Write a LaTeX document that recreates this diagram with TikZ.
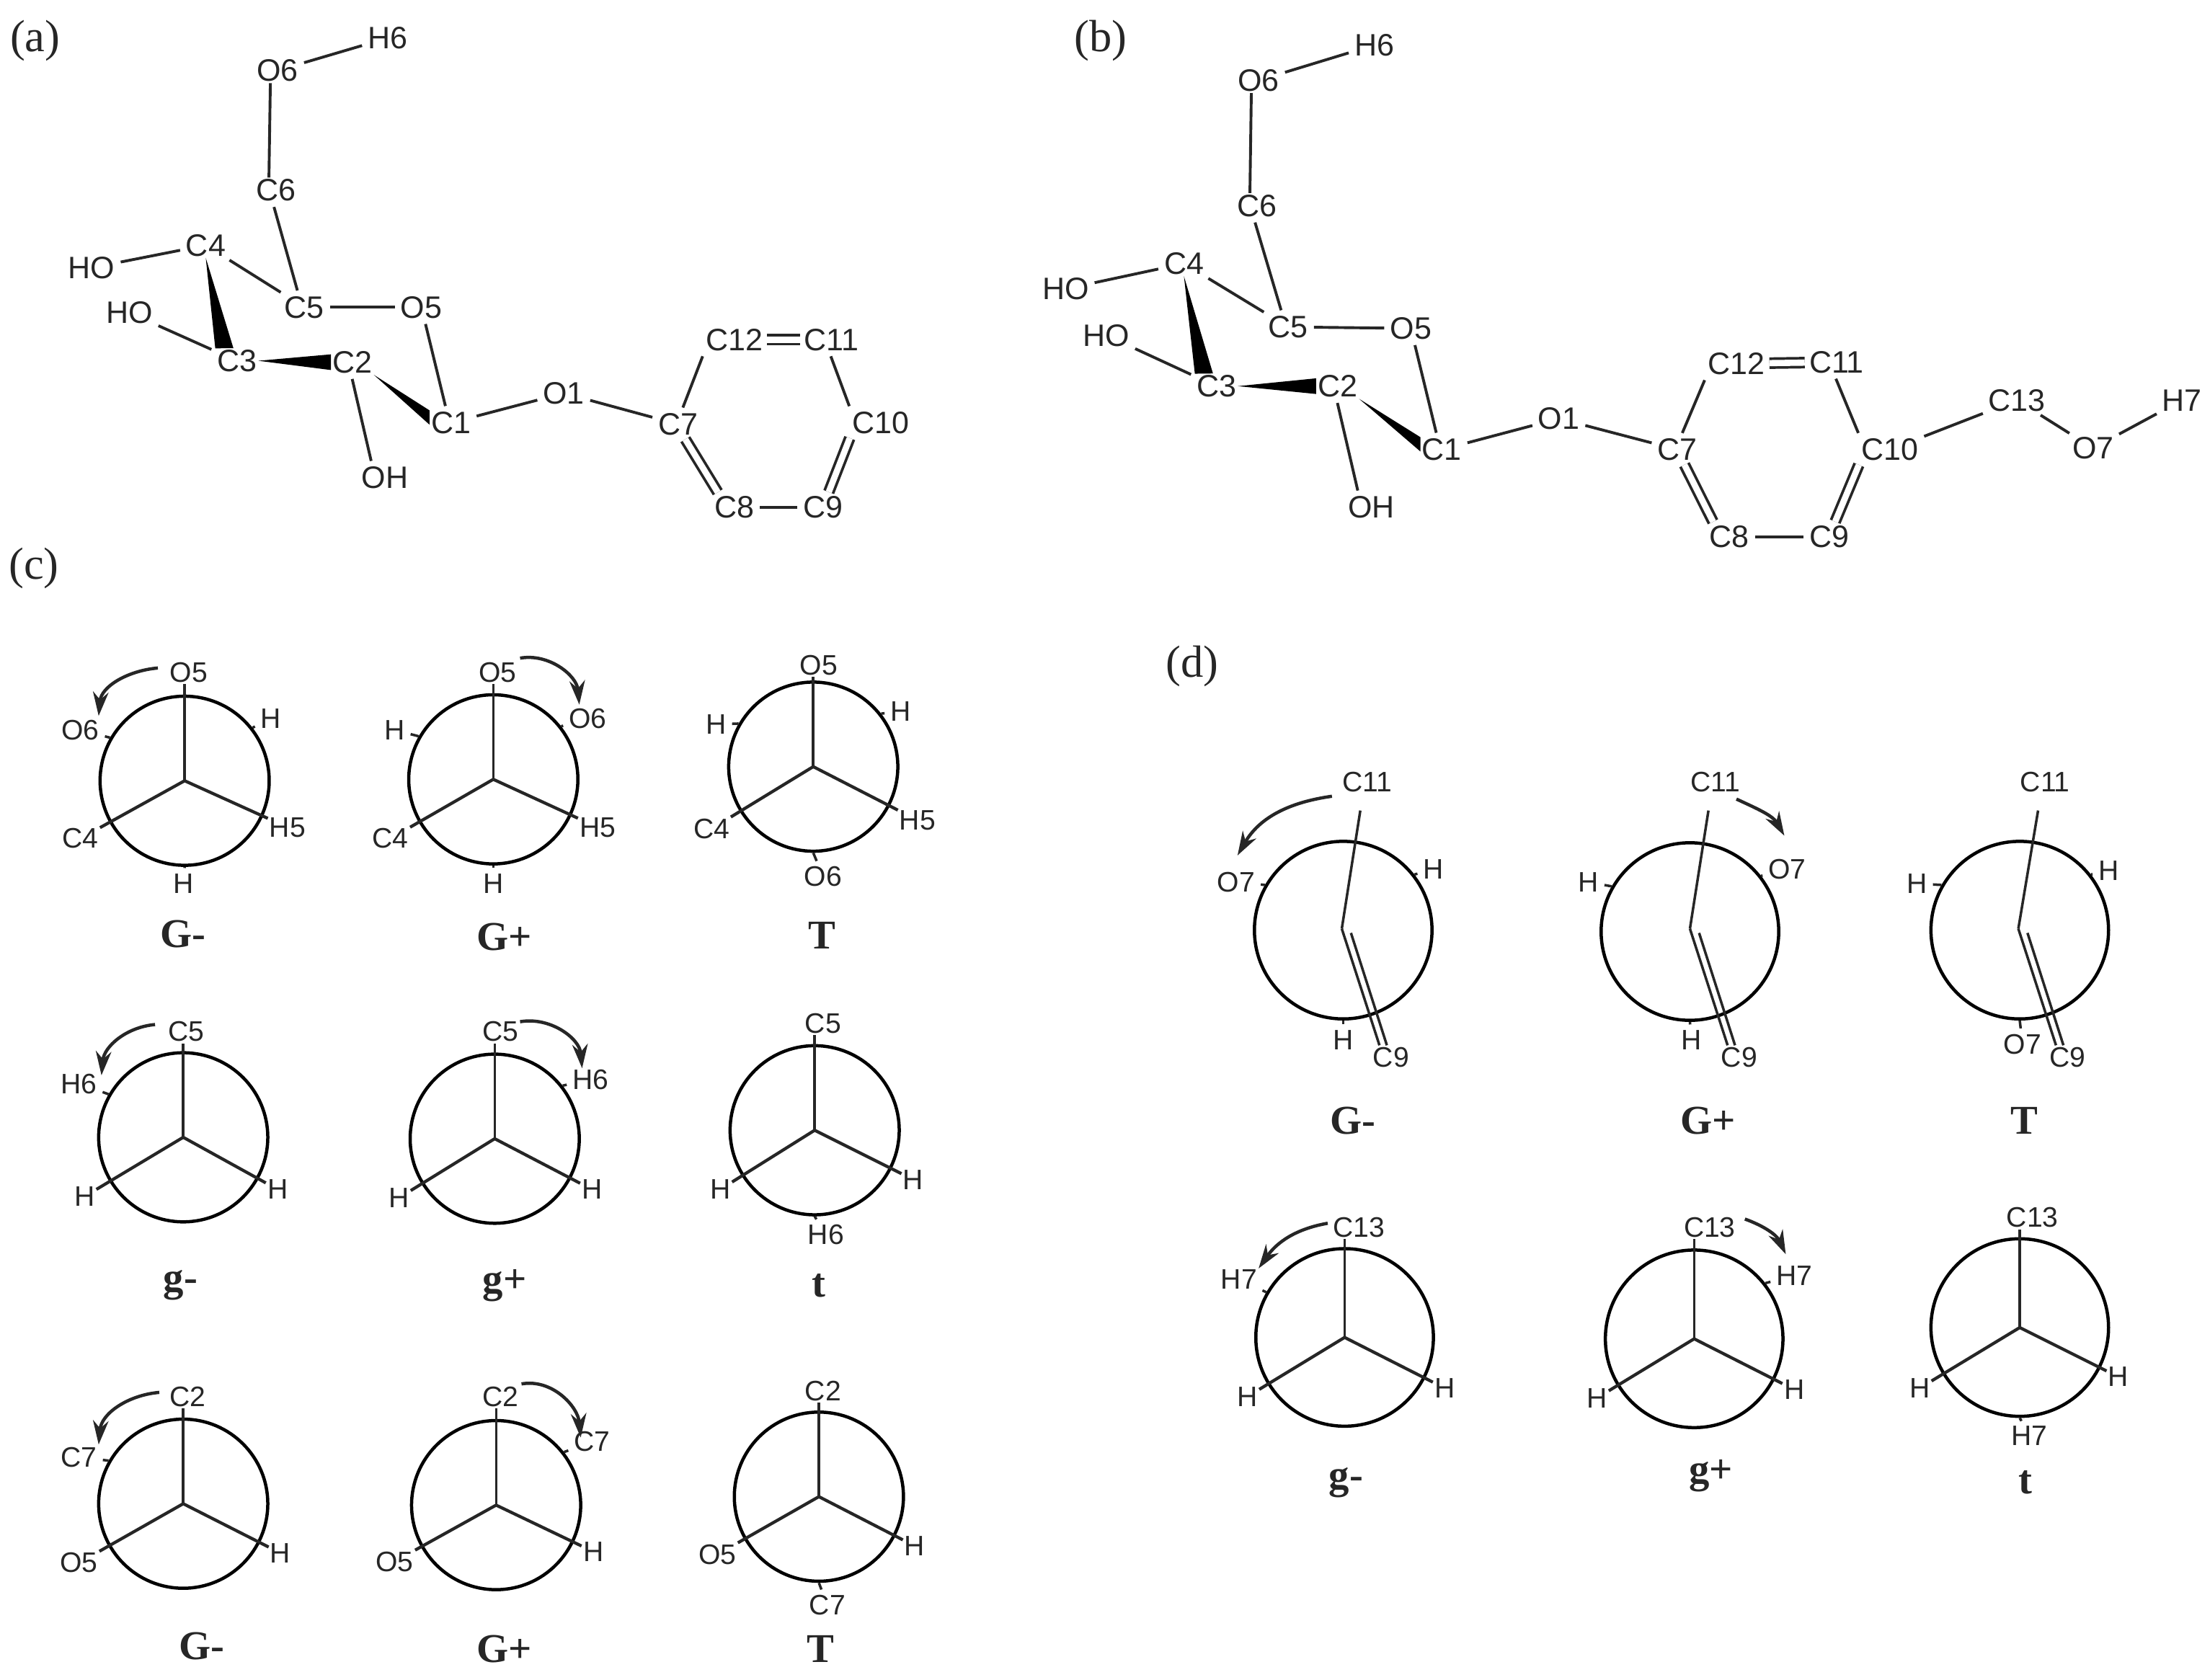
\documentclass[tikz,border=0pt]{standalone}
\usepackage{fontspec}
\setmainfont{Liberation Sans}
\newfontfamily\confont{Liberation Serif}
\usetikzlibrary{arrows.meta}
\definecolor{inkgray}{gray}{0.15}
\tikzset{
	atom/.style={inner sep=1pt, text=inkgray, font=\fontsize{22}{24}\selectfont},
	natom/.style={inner sep=1pt, text=inkgray, font=\fontsize{20}{22}\selectfont},
	panel/.style={inner sep=0pt, text=inkgray, font=\confont\fontsize{32}{35}\selectfont},
	conf/.style={inner sep=0pt, text=inkgray, font=\confont\bfseries\fontsize{29}{32}\selectfont},
	bond/.style={line width=1.8pt, draw=inkgray},
	mbond/.style={line width=2pt, draw=inkgray, shorten <=3pt, shorten >=3pt},
	dbond/.style={draw=inkgray, line width=1.9pt, double=white, double distance=4.4pt, shorten <=2pt, shorten >=2pt},
	ring/.style={circle, draw=black, line width=2.3pt, inner sep=0pt, minimum size=#1},
	turn/.style={line width=2.3pt, draw=inkgray, -{Stealth[length=17pt,width=11pt]}}
}
\begin{document}
\begin{tikzpicture}[x=1pt,y=-1pt]
	\useasboundingbox (0,0) rectangle (1568,1192);

	\node[panel] (pa) at (25,29) {(a)};
	\node[panel] (pb) at (781,29) {(b)};
	\node[panel] (pc) at (24,403) {(c)};
	\node[panel] (pd) at (846,473) {(d)};

	% the two sugars
	\foreach \nm/\x/\y/\t in {H6/275/27/H6, O6/197/50/O6, C6/196/135/C6, C4/146/174/C4, HOa/65/190/HO, C5/216/218/C5, O5/299/218/O5, HOb/92/222/HO, C3/168/256/C3, C2/250/257/C2, C1/320/300/C1, OH/273/339/OH, O1/400/279/O1, C7/481/301/C7, C12/521/241/C12, C11/590/241/C11, C10/625/300/C10, C8/521/360/C8, C9/584/360/C9}
		\node[atom] (a\nm) at (\x,\y) {\t};
	\foreach \nm/\x/\y/\t in {H6/975/32/H6, O6/893/57/O6, C6/892/146/C6, C4/840/187/C4, HOa/756/205/HO, C5/914/232/C5, O5/1001/233/O5, HOb/785/238/HO, C3/863/274/C3, C2/949/274/C2, C1/1023/319/C1, OH/973/360/OH, O1/1106/297/O1, C7/1190/319/C7, C12/1232/258/C12, C11/1303/257/C11, C10/1341/319/C10, C8/1227/381/C8, C9/1298/381/C9, C13/1431/284/C13, O7/1485/318/O7, H7/1548/284/H7}
		\node[atom] (b\nm) at (\x,\y) {\t};

	\foreach \p in {a,b} {
		\foreach \s/\e in {O6/H6, C4/HOa, C4/C5, C5/O5, C1/O1, O1/C7, C9/C8, C3/HOb}
			\draw[mbond] (\p\s) -- (\p\e);
		\draw[mbond, shorten <=0pt, shorten >=0pt] (\p O6.-120) -- (\p C6.120);
		\draw[mbond] (\p C6.-105) -- (\p C5.115);
		\draw[mbond] (\p O5) -- (\p C1.110);
		\draw[mbond] (\p C2.-95) -- (\p OH.135);
		\draw[mbond] (\p C7.75) -- (\p C12.south west);
		\draw[mbond] (\p C11.-100) -- (\p C10.north west);
		\fill[black] (\p C4.south) -- (\p C3.150) -- (\p C3.105) -- cycle;
		\fill[black] (\p C3.east) -- (\p C2.160) -- (\p C2.200) -- cycle;
		\fill[black] (\p C2.south east) -- (\p C1.150) -- (\p C1.185) -- cycle;
		\draw[dbond] (\p C12) -- (\p C11);
		\draw[dbond] (\p C7.-65) -- (\p C8.140);
		\draw[dbond] (\p C10.south west) -- (\p C9.70);
	}
	\draw[mbond] (bC10) -- (bC13);
	\draw[mbond] (bC13) -- (bO7);
	\draw[mbond] (bO7) -- (bH7);

	% staggered rotamers: ring, top atom, two lower atoms
	\foreach \nm/\sz/\cx/\cy/\topl/\tx/\ty/\leftl/\lx/\ly/\rightl/\rx/\ry in {
		n11/120/131/554/O5/134/477/C4/57/595/H5/204/587,
		n12/120/350/553/O5/353/477/C4/277/595/H5/424/587,
		n13/120/577/544/O5/581/472/C4/505/588/H5/651/582,
		n21/120/130/807/C5/132/732/H/60/849/H/197/844,
		n22/120/351/808/C5/355/732/H/283/850/H/420/844,
		n23/120/578/802/C5/584/726/H/511/844/H/648/837,
		n31/120/130/1067/C2/133/991/O5/56/1109/H/199/1102,
		n32/120/352/1068/C2/355/991/O5/280/1108/H/421/1101,
		n33/120/581/1062/C2/584/987/O5/509/1103/H/649/1097,
		m21/126/954/949/C13/964/871/H/885/991/H/1025/985,
		m22/126/1202/950/C13/1213/871/H/1133/992/H/1273/986,
		m23/126/1433/942/C13/1442/864/H/1362/985/H/1503/977} {
		\node[ring=\sz] (\nm) at (\cx,\cy) {};
		\node[natom] (\nm-t) at (\tx,\ty) {\topl};
		\node[natom] (\nm-l) at (\lx,\ly) {\leftl};
		\node[natom] (\nm-r) at (\rx,\ry) {\rightl};
		\draw[bond] (\nm.center) -- (\nm.center |- \nm-t.south);
		\draw[bond, line width=2.2pt] (\nm.center) -- (\nm-l);
		\draw[bond, line width=2.2pt] (\nm.center) -- (\nm-r);
	}

	% allyl rotamers: bent bond and double bond
	\foreach \nm/\cx/\cy/\zx/\tx/\cnx in {m11/953/660/952/970/987, m12/1199/661/1199/1217/1234, m13/1433/660/1432/1451/1467} {
		\node[ring=126] (\nm) at (\cx,\cy) {};
		\coordinate (\nm-z) at (\zx,659);
		\coordinate (\nm-y) at (\zx+6.5,662);
		\node[natom] (\nm-t) at (\tx,555) {C11};
		\node[natom] (\nm-c) at (\cnx,750) {C9};
		\draw[bond, shorten >=12pt] (\nm-z) -- (\nm-t.-110);
		\draw[bond] (\nm-z) -- (\nm-c.135);
		\draw[bond] (\nm-y) -- (\nm-c.110);
	}

	% back atoms with their small ticks
	\foreach \nm/\ang/\t/\x/\y [count=\i] in {
		n11/150/O6/57/518, n11/38/H/192/510, n11/-90/H/130/627,
		n12/150/H/280/518, n12/38/O6/417/510, n12/-90/H/350/627,
		n13/150/H/508/514, n13/38/H/639/505, n13/-90/O6/584/622,
		n21/150/H6/56/769,
		n22/38/H6/419/766,
		n23/-90/H6/586/876,
		n31/150/C7/56/1034,
		n32/38/C7/420/1023,
		n33/-90/C7/587/1139,
		m11/150/O7/877/626, m11/38/H/1017/617, m11/-90/H/953/738,
		m12/150/H/1127/626, m12/38/O7/1268/617, m12/-90/H/1200/738,
		m13/150/H/1360/627, m13/38/H/1496/618, m13/-90/O7/1435/741,
		m21/150/H7/879/908,
		m22/38/H7/1273/905,
		m23/-90/H7/1440/1019} {
		\node[natom] (back\i) at (\x,\y) {\t};
		\draw[bond, shorten >=3pt] (\nm.\ang) -- (back\i);
	}

	% rotamer names
	\foreach \x/\y/\t [count=\i] in {
		130/663/G-, 358/665/G+, 583/664/T,
		128/912/g-, 358/912/g+, 581/912/t,
		143/1168/G-, 358/1170/G+, 582/1170/T,
		960/795/G-, 1212/795/G+, 1436/795/T,
		955/1052/g-, 1214/1047/g+, 1437/1052/t}
		\node[conf] (conf\i) at (\x,\y) {\t};

	% rotation arrows
	\foreach \sx/\sy/\ex/\ey/\o/\j [count=\i] in {
		112/474/70/508/185/85, 369/467/411/500/10/95,
		110/727/72/763/185/85, 369/725/413/758/10/95,
		113/988/70/1025/185/85, 370/982/412/1020/10/95,
		945/565/878/607/188/60, 1232/567/1266/593/-25/120,
		942/868/893/900/190/55, 1238/865/1267/890/-20/115} {
		\coordinate (from\i) at (\sx,\sy);
		\coordinate (to\i) at (\ex,\ey);
		\draw[turn] (from\i) to[out=\o,in=\j] (to\i);
	}
\end{tikzpicture}
\end{document}
